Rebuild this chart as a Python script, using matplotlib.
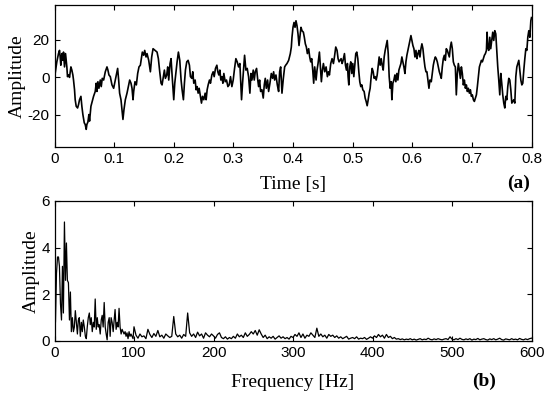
import numpy as np
import matplotlib
matplotlib.use('Agg')
from matplotlib import pyplot as plt

plt.rcParams['axes.unicode_minus'] = False

# time signal (s, amplitude)
t = [0.0000, 0.0011, 0.0039, 0.0067, 0.0084, 0.0095, 0.0106, 0.0123, 0.0140, 0.0151,
     0.0168, 0.0185, 0.0207, 0.0218, 0.0235, 0.0252, 0.0275, 0.0291, 0.0308, 0.0319,
     0.0336, 0.0347, 0.0364, 0.0387, 0.0403, 0.0420, 0.0443, 0.0459, 0.0476, 0.0499,
     0.0515, 0.0532, 0.0543, 0.0560, 0.0577, 0.0588, 0.0611, 0.0633, 0.0655, 0.0683,
     0.0700, 0.0711, 0.0728, 0.0745, 0.0768, 0.0784, 0.0801, 0.0824, 0.0852, 0.0880,
     0.0896, 0.0913, 0.0936, 0.0964, 0.0992, 0.1014, 0.1036, 0.1059, 0.1076, 0.1092,
     0.1115, 0.1132, 0.1148, 0.1165, 0.1188, 0.1216, 0.1244, 0.1261, 0.1283, 0.1300,
     0.1317, 0.1328, 0.1350, 0.1373, 0.1395, 0.1417, 0.1440, 0.1457, 0.1473, 0.1496,
     0.1513, 0.1535, 0.1552, 0.1580, 0.1608, 0.1630, 0.1653, 0.1686, 0.1720, 0.1742,
     0.1765, 0.1787, 0.1804, 0.1826, 0.1843, 0.1860, 0.1882, 0.1899, 0.1916, 0.1938,
     0.1955, 0.1972, 0.2000, 0.2017, 0.2034, 0.2056, 0.2078, 0.2101, 0.2123, 0.2140,
     0.2162, 0.2179, 0.2196, 0.2218, 0.2241, 0.2263, 0.2280, 0.2303, 0.2319, 0.2336,
     0.2359, 0.2375, 0.2392, 0.2409, 0.2426, 0.2448, 0.2465, 0.2482, 0.2504, 0.2527,
     0.2543, 0.2560, 0.2577, 0.2599, 0.2616, 0.2639, 0.2661, 0.2678, 0.2700, 0.2723,
     0.2739, 0.2756, 0.2773, 0.2790, 0.2807, 0.2824, 0.2840, 0.2863, 0.2885, 0.2908,
     0.2930, 0.2952, 0.2975, 0.2997, 0.3020, 0.3042, 0.3064, 0.3087, 0.3109, 0.3137,
     0.3154, 0.3188, 0.3210, 0.3232, 0.3255, 0.3277, 0.3294, 0.3311, 0.3333, 0.3350,
     0.3367, 0.3389, 0.3406, 0.3423, 0.3440, 0.3457, 0.3479, 0.3501, 0.3518, 0.3535,
     0.3552, 0.3574, 0.3591, 0.3613, 0.3636, 0.3658, 0.3675, 0.3692, 0.3714, 0.3737,
     0.3759, 0.3776, 0.3793, 0.3815, 0.3838, 0.3860, 0.3877, 0.3899, 0.3927, 0.3955,
     0.3972, 0.3983, 0.4000, 0.4017, 0.4034, 0.4050, 0.4067, 0.4084, 0.4101, 0.4118,
     0.4134, 0.4151, 0.4174, 0.4190, 0.4207, 0.4224, 0.4241, 0.4263, 0.4280, 0.4297,
     0.4314, 0.4331, 0.4347, 0.4364, 0.4387, 0.4403, 0.4420, 0.4443, 0.4459, 0.4476,
     0.4493, 0.4510, 0.4532, 0.4555, 0.4577, 0.4594, 0.4611, 0.4633, 0.4655, 0.4678,
     0.4695, 0.4717, 0.4739, 0.4756, 0.4773, 0.4790, 0.4807, 0.4824, 0.4840, 0.4863,
     0.4880, 0.4896, 0.4913, 0.4924, 0.4936, 0.4952, 0.4969, 0.4986, 0.5003, 0.5020,
     0.5036, 0.5053, 0.5070, 0.5087, 0.5104, 0.5120, 0.5137, 0.5154, 0.5171, 0.5193,
     0.5210, 0.5227, 0.5244, 0.5261, 0.5277, 0.5294, 0.5311, 0.5328, 0.5345, 0.5361,
     0.5378, 0.5395, 0.5412, 0.5429, 0.5445, 0.5462, 0.5479, 0.5496, 0.5513, 0.5529,
     0.5546, 0.5563, 0.5580, 0.5597, 0.5613, 0.5630, 0.5647, 0.5658, 0.5675, 0.5692,
     0.5709, 0.5725, 0.5742, 0.5759, 0.5776, 0.5793, 0.5810, 0.5826, 0.5843, 0.5860,
     0.5877, 0.5894, 0.5910, 0.5927, 0.5944, 0.5961, 0.5978, 0.5994, 0.6011, 0.6028,
     0.6045, 0.6062, 0.6078, 0.6095, 0.6112, 0.6129, 0.6146, 0.6162, 0.6179, 0.6196,
     0.6213, 0.6230, 0.6246, 0.6263, 0.6280, 0.6297, 0.6319, 0.6336, 0.6353, 0.6370,
     0.6387, 0.6403, 0.6420, 0.6437, 0.6454, 0.6471, 0.6487, 0.6504, 0.6521, 0.6538,
     0.6555, 0.6571, 0.6588, 0.6605, 0.6622, 0.6639, 0.6655, 0.6672, 0.6689, 0.6706,
     0.6723, 0.6739, 0.6756, 0.6773, 0.6790, 0.6807, 0.6824, 0.6840, 0.6857, 0.6874,
     0.6891, 0.6908, 0.6924, 0.6941, 0.6958, 0.6975, 0.6992, 0.7008, 0.7025, 0.7042,
     0.7059, 0.7076, 0.7092, 0.7109, 0.7126, 0.7143, 0.7160, 0.7176, 0.7193, 0.7210,
     0.7227, 0.7244, 0.7255, 0.7266, 0.7283, 0.7300, 0.7316, 0.7333, 0.7350, 0.7367,
     0.7384, 0.7401, 0.7417, 0.7434, 0.7451, 0.7468, 0.7485, 0.7501, 0.7518, 0.7535,
     0.7552, 0.7569, 0.7586, 0.7602, 0.7619, 0.7636, 0.7653, 0.7670, 0.7686, 0.7703,
     0.7720, 0.7737, 0.7754, 0.7770, 0.7787, 0.7804, 0.7821, 0.7838, 0.7854, 0.7871,
     0.7888, 0.7905, 0.7922, 0.7938, 0.7955, 0.7972, 0.7989, 0.8000]
amp = [-5.1, 1.9, 8.1, 12.5, 14.2, 10.7, 6.3, 12.5, 8.9, 13.3,
       5.4, 12.5, 5.4, 0.2, 1.1, -0.2, 5.4, 3.7, 1.1, -1.6,
       -6.8, -12.1, -15.6, -16.5, -14.7, -12.1, -10.3, -15.6, -20.0, -24.4,
       -25.3, -27.9, -25.3, -24.0, -20.0, -23.5, -15.6, -13.0, -10.3, -7.7,
       -3.3, -7.7, -2.5, -6.0, -1.6, -5.1, -0.7, -1.6, 2.8, 5.4,
       3.7, 1.1, 0.2, -4.2, -6.0, -2.5, 1.1, 4.6, -1.6, -8.6,
       -12.1, -17.4, -22.6, -17.4, -12.1, -8.6, -4.2, -1.6, -3.3, -6.0,
       -12.1, -7.7, -2.5, -4.2, 1.9, 5.4, 6.3, 9.8, 13.3, 11.6,
       14.2, 10.7, 12.5, 8.9, 2.8, 10.7, 15.1, 14.2, 13.3, 9.8,
       2.8, -3.3, -4.2, 0.2, 3.7, -0.7, 1.1, 5.4, -1.6, 7.2,
       9.8, 1.1, -12.1, -3.3, 1.9, 8.1, 13.3, 8.9, -1.6, -6.8,
       -12.1, -3.3, 3.7, 8.1, 8.9, 6.3, 0.2, -0.7, 2.8, -3.3,
       -1.6, -6.8, -5.1, -8.6, -6.0, -10.3, -13.9, -10.3, -12.1, -8.6,
       -12.1, -6.8, -4.2, -1.6, -3.3, 1.1, 2.8, 0.2, 4.6, 6.3,
       2.8, 1.1, 3.7, -1.6, 0.2, -3.3, 1.9, -2.5, -1.6, -5.1,
       -4.2, 0.2, -5.1, -1.6, 4.6, 9.8, 8.1, 5.4, 7.2, -12.1,
       -3.3, 11.6, 3.7, 4.6, 0.2, -8.6, 1.9, -1.6, 3.7, -1.6,
       2.8, 4.6, -0.7, -5.1, -1.6, -7.7, -6.8, -11.2, -4.2, -0.7,
       -6.0, -1.6, -7.7, -3.3, 1.9, -0.7, 2.8, -1.6, 1.1, -4.2,
       -7.7, 2.8, 5.4, -8.6, -0.7, 5.4, 6.3, 7.2, 8.9, 12.5,
       16.0, 21.2, 26.5, 29.1, 26.5, 30.0, 27.4, 23.0, 16.8, 22.1,
       26.5, 24.7, 23.9, 21.2, 17.7, 16.0, 12.5, 15.1, 10.7, 8.1,
       9.8, 3.7, -3.3, 5.4, -1.6, 3.7, 7.2, 13.3, 5.4, -2.5,
       3.7, 7.2, 2.8, 5.4, 0.2, 2.8, 1.1, 7.2, 9.8, 7.2,
       10.7, 16.0, 14.2, 9.8, 8.1, 8.9, 9.8, 7.2, 8.9, 12.5,
       6.3, 3.7, 7.2, 0.2, -4.2, 5.4, 8.1, 1.9, 7.2, 0.2,
       6.3, 12.5, 13.3, 9.8, 2.8, -2.5, -5.1, -4.2, -6.8, -7.7,
       -11.2, -13.0, -15.3, -12.1, -8.6, -6.0, 0.2, 4.6, 2.8, -0.7,
       0.2, -1.6, 1.1, 6.3, 10.7, 6.3, 9.8, 6.3, 3.7, 10.7,
       14.2, 16.8, 19.5, 12.5, 0.2, -6.0, -2.5, -12.1, -3.3, -1.6,
       1.1, -2.5, 1.9, -1.6, 3.7, 5.4, 7.2, 10.7, 8.1, 5.4,
       1.9, 8.1, 11.6, 14.2, 16.8, 19.5, 22.1, 19.5, 16.8, 15.1,
       10.7, 14.2, 9.8, 12.5, 14.2, 10.7, 15.1, 17.7, 15.1, 9.8,
       5.4, 2.8, 2.8, -1.6, -6.0, -1.6, -2.5, 1.9, 6.3, 8.9,
       10.7, 9.8, 8.1, 5.4, 2.8, 1.1, -0.7, 5.4, 9.8, 11.6,
       8.9, 15.1, 14.2, 12.5, 10.7, 16.0, 18.6, 15.1, 8.1, 6.3,
       5.4, -9.5, 1.9, 7.2, 3.7, -0.7, 5.4, 1.9, -4.2, -1.6,
       -6.0, -4.2, -7.7, -6.0, -8.6, -6.8, -10.3, -9.5, -12.1, -13.0,
       -11.2, -9.5, -5.1, 0.2, 5.4, 7.2, 8.9, 8.1, 9.8, 11.6,
       12.5, 14.2, 23.9, 16.0, 14.2, 21.2, 15.1, 19.5, 23.9, 19.5,
       24.7, 23.0, 14.2, 5.4, -1.6, -9.5, 1.9, -3.3, -9.5, -13.9,
       -16.5, -10.3, -12.1, -5.1, -0.7, -1.6, -6.8, -13.9, -13.0, -12.1,
       -13.9, 0.2, 5.4, 7.2, 8.9, 3.7, -1.6, -4.2, -3.3, 3.7,
       9.8, 15.1, 14.2, 21.2, 24.7, 21.2, 30.0, 31.7]

# spectrum, low-frequency part (Hz, amplitude)
f_low = [0.0, 1.2, 2.5, 3.8, 5.0, 6.2, 7.5, 8.8, 10.0, 11.2,
         12.5, 13.8, 15.0, 16.2, 17.5, 18.8, 20.0, 21.2, 22.5, 23.8,
         25.0, 26.2, 27.5, 28.8, 30.0, 31.2, 32.5, 33.8, 35.0, 36.2,
         37.5, 38.8, 40.0, 41.2, 42.5, 43.8, 45.0, 46.2, 47.5, 48.8,
         50.0, 51.2, 52.5, 53.8, 55.0, 56.2, 57.5, 58.8, 60.0, 61.2,
         62.5, 63.8, 65.0, 66.2, 67.5, 68.8, 70.0, 71.2, 72.5, 73.8,
         75.0, 76.2, 77.5, 78.8, 80.0, 81.2, 82.5, 83.8, 85.0, 86.2,
         87.5, 88.8, 90.0, 91.2, 92.5, 93.8, 95.0, 96.2, 97.5, 98.8]
a_low = [4.6, 0.8, 2.9, 3.6, 3.6, 3.2, 1.6, 0.9, 3.2, 1.2,
         5.1, 2.6, 4.2, 2.6, 2.5, 0.9, 2.1, 0.4, 1.0, 0.4,
         0.6, 1.3, 0.8, 0.3, 0.9, 1.0, 0.2, 0.8, 0.4, 0.9,
         0.6, 0.2, 0.1, 0.6, 1.0, 1.2, 0.7, 1.0, 0.4, 0.8,
         0.6, 1.8, 0.5, 1.0, 0.6, 0.7, 0.3, 0.9, 1.1, 0.6,
         1.65, 0.6, 0.3, 0.05, 0.8, 1.0, 0.2, 1.0, 0.8, 0.4,
         0.9, 1.35, 0.5, 0.8, 0.6, 1.4, 0.6, 0.3, 0.5, 0.4,
         0.3, 0.4, 0.2, 0.35, 0.1, 0.4, 0.2, 0.3, 0.2, 0.1]

# spectrum, 100-600 Hz on a 2.5 Hz grid
a_high = [0.61, 0.25, 0.12, 0.3, 0.18, 0.22, 0.1, 0.5, 0.28, 0.15, 0.32, 0.2, 0.45, 0.18, 0.25, 0.12, 0.3, 0.22, 0.15, 0.2,
          1.05, 0.3, 0.18, 0.25, 0.12, 0.28, 0.2, 1.2, 0.35, 0.2, 0.3, 0.15, 0.38, 0.22, 0.3, 0.12, 0.35, 0.25, 0.18, 0.3,
          0.22, 0.12, 0.28, 0.35, 0.15, 0.1, 0.18, 0.08, 0.15, 0.1, 0.2, 0.12, 0.3, 0.18, 0.25, 0.15, 0.35, 0.2, 0.28, 0.4,
          0.3, 0.45, 0.25, 0.48, 0.3, 0.15, 0.25, 0.1, 0.18, 0.12, 0.2, 0.08, 0.15, 0.22, 0.12, 0.18, 0.1, 0.15, 0.08, 0.2,
          0.15, 0.28, 0.2, 0.35, 0.15, 0.3, 0.12, 0.25, 0.2, 0.35, 0.25, 0.15, 0.55, 0.2, 0.3, 0.18, 0.25, 0.12, 0.28, 0.2,
          0.25, 0.15, 0.22, 0.12, 0.18, 0.1, 0.15, 0.2, 0.08, 0.12, 0.15, 0.1, 0.18, 0.08, 0.12, 0.1, 0.15, 0.07, 0.12, 0.18,
          0.12, 0.22, 0.15, 0.28, 0.18, 0.25, 0.12, 0.28, 0.15, 0.2, 0.1, 0.15, 0.08, 0.1, 0.06, 0.09, 0.05, 0.08, 0.06, 0.1,
          0.05, 0.08, 0.04, 0.07, 0.1, 0.05, 0.08, 0.06, 0.12, 0.07, 0.05, 0.09, 0.06, 0.1, 0.07, 0.05, 0.08, 0.1, 0.06, 0.18,
          0.08, 0.05, 0.1, 0.06, 0.12, 0.07, 0.05, 0.09, 0.06, 0.1, 0.04, 0.08, 0.06, 0.11, 0.05, 0.08, 0.1, 0.06, 0.04, 0.09,
          0.06, 0.1, 0.05, 0.08, 0.12, 0.06, 0.04, 0.09, 0.07, 0.05, 0.1, 0.06, 0.08, 0.05, 0.11, 0.07, 0.05, 0.09, 0.06, 0.1,
          0.12]
f_high = np.arange(len(a_high)) * 2.5 + 100

freq = np.concatenate([f_low, f_high])
spec = np.concatenate([a_low, a_high])

serif = ['Liberation Serif', 'DejaVu Serif']
sans = ['Liberation Sans', 'DejaVu Sans']


def style_axes(ax):
    ax.tick_params(direction='in', top=True, right=True, length=3.5, width=0.8,
                   labelsize=11)
    for lab in ax.get_xticklabels() + ax.get_yticklabels():
        lab.set_family(sans)
    for s in ax.spines.values():
        s.set_linewidth(0.9)


fig = plt.figure(figsize=(5.5, 3.99), dpi=100)

ax1 = fig.add_axes([54.5 / 550, 1 - 147 / 399, 477 / 550, 142 / 399])
ax1.plot(t, amp, color='black', lw=1.2)
ax1.set_xlim(0, 0.8)
ax1.set_ylim(-37.3, 38.4)
ax1.set_xticks([0, 0.1, 0.2, 0.3, 0.4, 0.5, 0.6, 0.7, 0.8])
ax1.set_xticklabels(['0', '0.1', '0.2', '0.3', '0.4', '0.5', '0.6', '0.7', '0.8'])
ax1.set_yticks([-20, 0, 20])
style_axes(ax1)
ax1.set_xlabel('Time [s]', family=serif, fontsize=14, labelpad=7.5)
ax1.set_ylabel('Amplitude', family=serif, fontsize=14, labelpad=1)
fig.text(519 / 550, 1 - 183 / 399, '(a)', family=serif, fontsize=14,
         fontweight='bold', ha='center', va='center')

ax2 = fig.add_axes([54.5 / 550, 1 - 341 / 399, 477 / 550, 140 / 399])
ax2.plot(freq, spec, color='black', lw=0.9)
ax2.set_xlim(0, 600)
ax2.set_ylim(0, 6)
ax2.set_xticks([0, 100, 200, 300, 400, 500, 600])
ax2.set_yticks([0, 2, 4, 6])
style_axes(ax2)
ax2.set_xlabel('Frequency [Hz]', family=serif, fontsize=14, labelpad=10)
ax2.set_ylabel('Amplitude', family=serif, fontsize=14, labelpad=1)
fig.text(484 / 550, 1 - 381 / 399, '(b)', family=serif, fontsize=14,
         fontweight='bold', ha='center', va='center')

fig.savefig('out.png', dpi=100)
